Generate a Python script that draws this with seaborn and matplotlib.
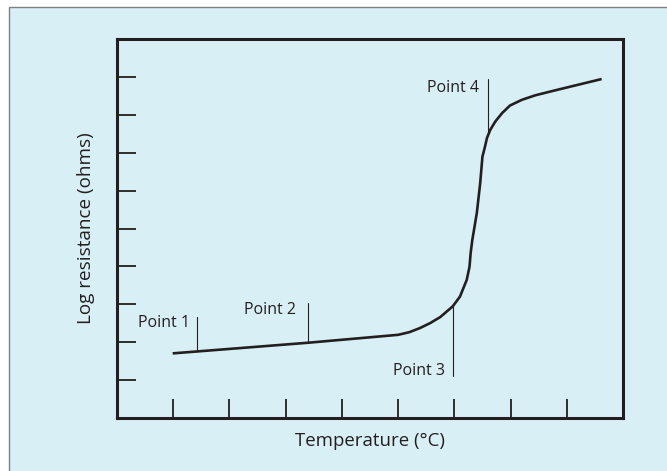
import matplotlib
matplotlib.use("Agg")
import matplotlib.pyplot as plt
import seaborn as sns
import pandas as pd
from matplotlib.patches import Rectangle

# Curve (temperature vs log resistance)
temp = [0.99, 1.42, 3.39, 5.00, 5.20, 5.39, 5.57, 5.75, 5.97, 6.10, 6.22,
        6.27, 6.29, 6.32, 6.40, 6.46, 6.50, 6.54, 6.58, 6.64, 6.73, 6.85,
        6.99, 7.20, 7.44, 7.79, 8.62]
logres = [1.70, 1.75, 1.98, 2.19, 2.26, 2.37, 2.50, 2.66, 2.94, 3.20, 3.64,
          3.99, 4.35, 4.70, 5.41, 6.20, 6.90, 7.13, 7.39, 7.61, 7.83, 8.05,
          8.25, 8.40, 8.52, 8.65, 8.95]

# Annotated points
point_labels = ["Point 1", "Point 2", "Point 3", "Point 4"]
point_x = [1.42, 3.39, 5.97, 6.60]
line_y0 = [1.76, 1.97, 1.10, 7.52]
line_y1 = [2.65, 3.03, 2.94, 8.96]
label_x = [1.29, 3.19, 5.83, 6.44]
label_y = [2.51, 2.85, 1.24, 8.71]

x_ticks = [1, 2, 3, 4, 5, 6, 7, 8]
y_ticks = [1, 2, 3, 4, 5, 6, 7, 8, 9]

ink = "#231f20"
bg = "#d9eff6"

sns.set_theme(style="white")
plt.rcParams["font.family"] = ["Open Sans", "DejaVu Sans"]

fig = plt.figure(figsize=(6.67, 4.71), dpi=100)
fig.patch.set_facecolor("white")
frame = Rectangle((9.3 / 667, -0.05), 1.2, 1 - 6.7 / 471 + 0.05,
                  transform=fig.transFigure, facecolor=bg,
                  edgecolor="#808080", linewidth=1.0, zorder=-10)
fig.patches.append(frame)

ax = fig.add_axes([117 / 667, (471 - 417.7) / 471,
                   (623 - 117) / 667, (417.7 - 39.3) / 471])
ax.set_zorder(5)
ax.set_facecolor(bg)

df = pd.DataFrame({"Temperature": temp, "LogRes": logres})
sns.lineplot(data=df, x="Temperature", y="LogRes", sort=False, ax=ax,
             color=ink, linewidth=1.9, solid_joinstyle="round",
             solid_capstyle="butt")

for lx, y0, y1 in zip(point_x, line_y0, line_y1):
    ax.plot([lx, lx], [y0, y1], color=ink, linewidth=0.8)
for lab, tx, ty in zip(point_labels, label_x, label_y):
    ax.text(tx, ty, lab, ha="right", va="center", fontsize=11.5, color=ink)

ax.set_xlim(0, 9)
ax.set_ylim(0, 10)
ax.set_xticks(x_ticks)
ax.set_yticks(y_ticks)
ax.set_xticklabels([])
ax.set_yticklabels([])
ax.tick_params(axis="both", direction="in", length=14, width=1.3,
               color=ink, bottom=True, left=True)
for side in ["left", "right", "top", "bottom"]:
    ax.spines[side].set_visible(True)
    ax.spines[side].set_color(ink)
    ax.spines[side].set_linewidth(2.2)

ax.set_xlabel("Temperature (°C)", fontsize=13.4, color=ink, labelpad=7)
ax.set_ylabel("Log resistance (ohms)", fontsize=13.6, color=ink, labelpad=12)

fig.savefig("out.png", dpi=100)
